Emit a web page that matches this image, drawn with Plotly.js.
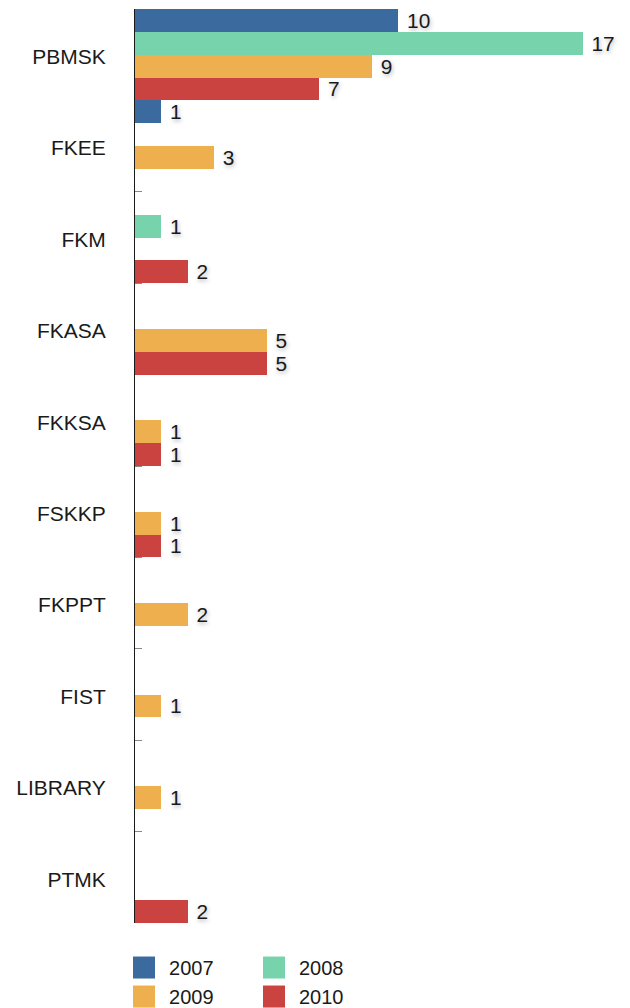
<!DOCTYPE html>
<html>
<head>
<meta charset="utf-8">
<script src="https://cdn.plot.ly/plotly-3.0.1.min.js"></script>
<style>
  html, body { margin: 0; padding: 0; background: #fff; }
  #chart { width: 630px; height: 1008px; }
  .legendpoints path { transform: translate(25px, 0px) scale(1.833) !important; }
</style>
</head>
<body>
<div id="chart"></div>
<script>
const categories = ["PBMSK", "FKEE", "FKM", "FKASA", "FKKSA", "FSKKP", "FKPPT", "FIST", "LIBRARY", "PTMK"];
const seriesNames = ["2007", "2008", "2009", "2010"];
const values2007 = [10, 1, null, null, null, null, null, null, null, null];
const values2008 = [17, null, 1, null, null, null, null, null, null, null];
const values2009 = [9, 3, null, 5, 1, 1, 2, 1, 1, null];
const values2010 = [7, null, 2, 5, 1, 1, null, null, null, 2];
const colors = ["#3b6a9e", "#77d3ab", "#eeb04e", "#cb4341"];
const legendIds = ["legend", "legend2", "legend", "legend2"];
const allValues = [values2007, values2008, values2009, values2010];

const FONT = "Liberation Sans, Arial, Helvetica, sans-serif";

const traces = allValues.map((vals, i) => ({
  type: "bar",
  orientation: "h",
  name: seriesNames[i],
  y: categories,
  x: vals,
  marker: { color: colors[i], line: { width: 0 } },
  text: vals.map(v => v == null ? "" : String(v)),
  texttemplate: "\u00a0%{text}",
  textposition: "outside",
  cliponaxis: false,
  textfont: { family: FONT, size: 21, color: "#1a1a1a", shadow: "1px 2px 4px rgba(0,0,0,0.30)" },
  legend: legendIds[i],
  hoverinfo: "x+y+name"
}));

const legendBase = {
  orientation: "v",
  xref: "paper",
  yref: "container",
  xanchor: "left",
  yanchor: "top",
  y: 0.0595,
  font: { family: FONT, size: 20, color: "#1a1a1a" },
  itemwidth: 40,
  bgcolor: "rgba(0,0,0,0)",
  tracegroupgap: 0
};

const layout = {
  width: 630,
  height: 1008,
  margin: { l: 135, r: 0, t: 9, b: 85 },
  paper_bgcolor: "#ffffff",
  plot_bgcolor: "#ffffff",
  barmode: "group",
  bargap: 0,
  bargroupgap: 0,
  showlegend: true,
  font: { family: FONT, size: 20, color: "#1a1a1a" },
  xaxis: {
    range: [0, 18.8],
    showgrid: false,
    zeroline: false,
    showline: false,
    showticklabels: false,
    ticks: "",
    fixedrange: true
  },
  yaxis: {
    type: "category",
    autorange: "reversed",
    showgrid: false,
    zeroline: false,
    showline: true,
    linecolor: "#1a1a1a",
    linewidth: 1,
    ticks: "inside",
    ticklen: 7,
    tickwidth: 1,
    tickcolor: "#888888",
    tickson: "boundaries",
    layer: "below traces",
    ticklabelstandoff: 24,
    ticklabelshift: -2,
    tickfont: { family: FONT, size: 21, color: "#1a1a1a" },
    fixedrange: true
  },
  legend: Object.assign({}, legendBase, { x: -0.0323 }),
  legend2: Object.assign({}, legendBase, { x: 0.2303 })
};

Plotly.newPlot("chart", traces, layout, { displayModeBar: false, staticPlot: true });
</script>
</body>
</html>
